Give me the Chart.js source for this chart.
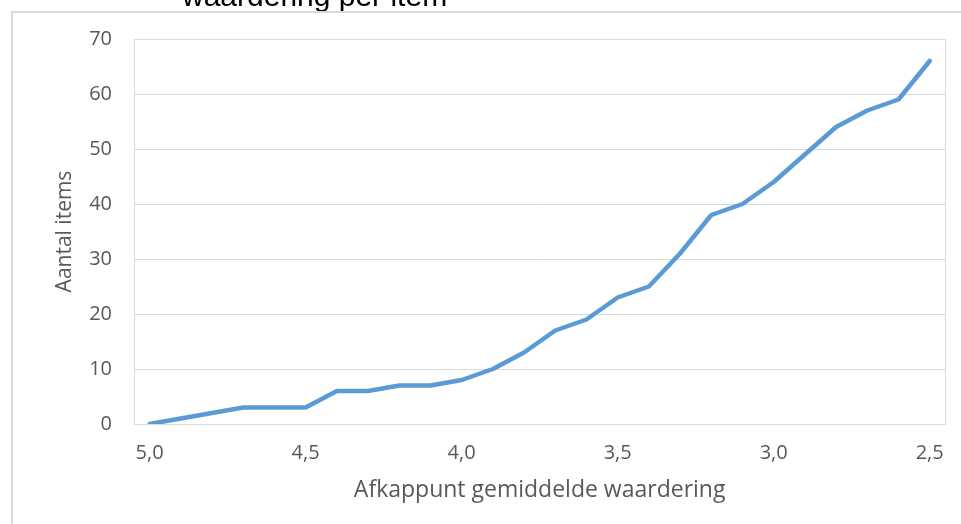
<!DOCTYPE html>
<html>
<head>
<meta charset="utf-8">
<script src="https://cdn.jsdelivr.net/npm/chart.js@4/dist/chart.umd.min.js"></script>
<style>
  html, body { margin: 0; padding: 0; background: #fff; }
  canvas { display: block; }
</style>
</head>
<body>
<canvas id="myChart" width="961" height="524"></canvas>
<script>
// afkappunten (x-as), van 5,0 aflopend naar 2,5
var afkappunten = ['5,0', '4,9', '4,8', '4,7', '4,6', '4,5', '4,4', '4,3', '4,2', '4,1',
                   '4,0', '3,9', '3,8', '3,7', '3,6', '3,5', '3,4', '3,3', '3,2', '3,1',
                   '3,0', '2,9', '2,8', '2,7', '2,6', '2,5'];
var aantalItems = [0, 1, 2, 3, 3, 3, 6, 6, 7, 7,
                   8, 10, 13, 17, 19, 23, 25, 31, 38, 40,
                   44, 49, 54, 57, 59, 66];
var yTicks = [0, 10, 20, 30, 40, 50, 60, 70];

var titelTekst = 'waardering per item'; // tweede regel van de titel, bovenaan afgesneden
var grijs = '#595959';
var lijnGrijs = '#d9d9d9';

// kader rond het plotgebied, buitenkader en afgesneden titel
var kaderPlugin = {
    id: 'kader',
    beforeDraw: function (chart) {
        var c = chart.ctx;
        c.save();
        c.fillStyle = '#fff';
        c.fillRect(0, 0, chart.width, chart.height);
        c.fillStyle = '#000';
        c.font = '30px "Liberation Sans", Arial, sans-serif';
        c.textBaseline = 'alphabetic';
        c.fillText(titelTekst, 182, 6);
        c.fillStyle = '#fff';
        c.fillRect(0, 11, chart.width, 5);
        c.strokeStyle = lijnGrijs;
        c.lineWidth = 2;
        c.beginPath();
        c.moveTo(12, chart.height);
        c.lineTo(12, 12);
        c.lineTo(chart.width, 12);
        c.stroke();
        c.restore();
    },
    afterDraw: function (chart) {
        var a = chart.chartArea;
        var c = chart.ctx;
        c.save();
        c.strokeStyle = lijnGrijs;
        c.lineWidth = 1;
        c.strokeRect(Math.round(a.left) + 0.5, Math.round(a.top) + 0.5,
                     Math.round(a.right - a.left), Math.round(a.bottom - a.top));
        c.restore();
    }
};

Chart.defaults.font.family = '"Open Sans", sans-serif';
Chart.defaults.color = grijs;

var ctx = document.getElementById('myChart').getContext('2d');
var myChart = new Chart(ctx, {
    type: 'line',
    data: {
        labels: afkappunten,
        datasets: [{
            label: 'Aantal items',
            data: aantalItems,
            borderColor: '#5b9bd5',
            borderWidth: 4.5,
            borderCapStyle: 'round',
            borderJoinStyle: 'round',
            pointRadius: 0,
            tension: 0,
            fill: false
        }]
    },
    plugins: [kaderPlugin],
    options: {
        responsive: false,
        animation: false,
        layout: { padding: { left: 0, top: 39, right: 15, bottom: 0 } },
        plugins: {
            legend: { display: false },
            tooltip: { enabled: false }
        },
        scales: {
            x: {
                offset: true,
                grid: { display: false, drawTicks: false },
                border: { display: false },
                ticks: {
                    autoSkip: false,
                    maxRotation: 0,
                    padding: 17,
                    color: grijs,
                    font: { size: 20 },
                    callback: function (val, i) {
                        return i % 5 === 0 ? afkappunten[i] : '';
                    }
                },
                title: {
                    display: true,
                    text: 'Afkappunt gemiddelde waardering',
                    color: grijs,
                    font: { size: 23 },
                    padding: { top: 8, bottom: 20 }
                },
                afterFit: function (scale) { scale.height = 100; }
            },
            y: {
                min: 0,
                max: 70,
                afterBuildTicks: function (scale) {
                    scale.ticks = yTicks.map(function (v) { return { value: v }; });
                },
                grid: { color: lijnGrijs, drawTicks: false },
                border: { display: false },
                ticks: {
                    padding: 22,
                    color: grijs,
                    font: { size: 20 }
                },
                title: {
                    display: true,
                    text: 'Aantal items',
                    color: grijs,
                    font: { size: 21 },
                    padding: { top: 52, bottom: 0 }
                },
                afterFit: function (scale) { scale.width = 134; }
            }
        }
    }
});
</script>
</body>
</html>
